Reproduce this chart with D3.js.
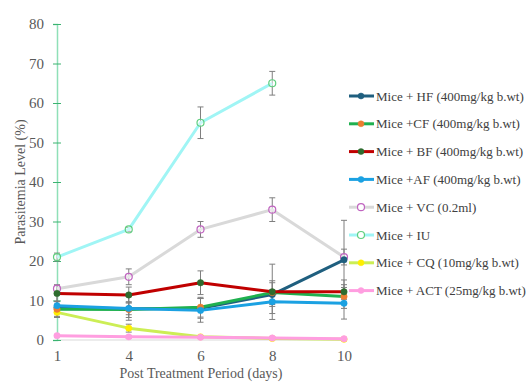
<!DOCTYPE html>
<html>
<head>
<meta charset="utf-8">
<script src="https://cdn.jsdelivr.net/npm/d3@7"></script>
<style>
  body { margin: 0; background: #fff; }
  svg text { font-family: "Liberation Serif", "Times New Roman", serif; }
</style>
</head>
<body>
<svg id="drawing_region"></svg>
<script>
// days after treatment
const days = ["1", "4", "6", "8", "10"];
const yTicks = [0, 10, 20, 30, 40, 50, 60, 70, 80];

// series names
const names = [
    "Mice + HF (400mg/kg b.wt)",
    "Mice +CF (400mg/kg b.wt)",
    "Mice + BF (400mg/kg b.wt)",
    "Mice +AF  (400mg/kg b.wt)",
    "Mice + VC (0.2ml)",
    "Mice + IU",
    "Mice + CQ (10mg/kg b.wt)",
    "Mice + ACT (25mg/kg b.wt)"
];

// parasitemia values (%), null = no value
const hf  = [8.2, 7.9, 8.0, 11.5, 20.3];
const cf  = [7.8, 7.7, 8.3, 12.0, 11.0];
const bf  = [11.8, 11.4, 14.5, 12.2, 12.2];
const af  = [8.7, 8.0, 7.5, 9.7, 9.3];
const vc  = [13, 16, 28, 33, 21];
const iu  = [21, 28, 55, 65, null];
const cq  = [7, 3, 0.8, 0.4, 0.2];
const act = [1.1, 0.8, 0.7, 0.5, 0.3];

// standard errors
const hfErr  = [1.5, 1.5, 2.5, 3, 10];
const cfErr  = [2, 2, 2.5, 3, 3];
const bfErr  = [2, 2, 3, 7, 3];
const afErr  = [3, 3, 3, 3, 4];
const vcErr  = [1, 2, 2, 3, 2];
const iuErr  = [1, 0.5, 4, 3, null];
const cqErr  = [1, 1, 0.3, 0.3, 0.2];
const actErr = [0.3, 0.3, 0.3, 0.3, 0.2];

const FONT = '"Liberation Serif", "Times New Roman", serif';

const series = [
    {name: names[0], values: hf,  err: hfErr,  line: "#1f5f7f", marker: "#1f5f7f", hollow: false},
    {name: names[1], values: cf,  err: cfErr,  line: "#1fb04f", marker: "#ed7d31", hollow: false},
    {name: names[2], values: bf,  err: bfErr,  line: "#c00000", marker: "#2e6b2e", hollow: false},
    {name: names[3], values: af,  err: afErr,  line: "#1ba1e2", marker: "#1ba1e2", hollow: false},
    {name: names[4], values: vc,  err: vcErr,  line: "#d9d9d9", marker: "#c064c0", hollow: true},
    {name: names[5], values: iu,  err: iuErr,  line: "#a0f5f5", marker: "#5fcf7f", hollow: true},
    {name: names[6], values: cq,  err: cqErr,  line: "#ccee55", marker: "#ffee00", hollow: false},
    {name: names[7], values: act, err: actErr, line: "#ff9ee0", marker: "#ff9ee0", hollow: false}
];

const config = {
    width: 529,
    height: 383,
    margin: {top: 24, left: 57, right: 185, bottom: 43}
};

const svg = d3.select("#drawing_region")
    .attr("width", config.width)
    .attr("height", config.height)
    .attr("font-family", FONT);

const innerW = config.width - config.margin.left - config.margin.right;
const innerH = config.height - config.margin.top - config.margin.bottom;

const chart = svg.append("g")
    .attr("transform", `translate(${config.margin.left},${config.margin.top})`);

const xScale = d3.scalePoint().domain(days).range([0, innerW]);
const yScale = d3.scaleLinear().domain([0, 80]).range([innerH, 0]);

// x axis line (light gray)
chart.append("line")
    .attr("x1", 0).attr("x2", innerW)
    .attr("y1", innerH).attr("y2", innerH)
    .attr("stroke", "#d9d9d9").attr("stroke-width", 1);

// x tick labels
const xAxis = chart.append("g")
    .attr("transform", `translate(0,${innerH})`)
    .call(d3.axisBottom(xScale).tickSize(0).tickPadding(10));
xAxis.attr("font-family", null);
xAxis.select(".domain").remove();
xAxis.selectAll("text")
    .attr("fill", "#595959")
    .style("font-size", "15px");

// y axis
const yAxis = chart.append("g")
    .call(d3.axisLeft(yScale).tickValues(yTicks).tickSize(4).tickPadding(9));
yAxis.attr("font-family", null);
yAxis.select(".domain").attr("stroke", "#8fe0b8").attr("stroke-width", 1.5);
yAxis.selectAll(".tick line")
    .attr("stroke", "#3cb371")
    .attr("x1", -4).attr("x2", 4);
yAxis.selectAll("text")
    .attr("fill", "#595959")
    .style("font-size", "15px");

// axis titles
svg.append("text")
    .attr("x", 201)
    .attr("y", 378)
    .attr("text-anchor", "middle")
    .attr("fill", "#595959")
    .style("font-size", "14px")
    .text("Post Treatment Period (days)");

svg.append("text")
    .attr("transform", "translate(25,182) rotate(-90)")
    .attr("text-anchor", "middle")
    .attr("fill", "#595959")
    .style("font-size", "14px")
    .text("Parasitemia Level (%)");

// error bars
const errG = chart.append("g");
series.forEach(s => {
    s.values.forEach((v, i) => {
        if (v === null || s.err[i] === null) return;
        const x = xScale(days[i]);
        const y1 = yScale(v + s.err[i]);
        const y2 = yScale(Math.max(0, v - s.err[i]));
        errG.append("line")
            .attr("x1", x).attr("x2", x).attr("y1", y1).attr("y2", y2)
            .attr("stroke", "#7f7f7f").attr("stroke-width", 1);
        [y1, y2].forEach(yy => {
            errG.append("line")
                .attr("x1", x - 3).attr("x2", x + 3).attr("y1", yy).attr("y2", yy)
                .attr("stroke", "#7f7f7f").attr("stroke-width", 1);
        });
    });
});

// lines (draw in reverse order so first series on top)
const line = d3.line()
    .defined(d => d.v !== null)
    .x(d => xScale(d.day))
    .y(d => yScale(d.v));

const drawOrder = [4, 5, 6, 7, 0, 1, 3, 2];
drawOrder.forEach(k => {
    const s = series[k];
    const pts = s.values.map((v, i) => ({day: days[i], v: v}));
    chart.append("path")
        .datum(pts)
        .attr("fill", "none")
        .attr("stroke", s.line)
        .attr("stroke-width", 3)
        .attr("stroke-linejoin", "round")
        .attr("d", line);
    chart.selectAll(null)
        .data(pts.filter(d => d.v !== null))
        .enter()
        .append("circle")
        .attr("cx", d => xScale(d.day))
        .attr("cy", d => yScale(d.v))
        .attr("r", s.hollow ? 3.5 : 3.2)
        .attr("fill", s.hollow ? "#ffffff" : s.marker)
        .attr("fill-opacity", s.hollow ? 0.4 : 1)
        .attr("stroke", s.marker)
        .attr("stroke-width", s.hollow ? 1.2 : 0.5);
});

// legend
const legend = svg.append("g").attr("transform", "translate(349,96)");
series.forEach((s, i) => {
    const g = legend.append("g").attr("transform", `translate(0,${i * 27.8})`);
    g.append("line")
        .attr("x1", 0).attr("x2", 25)
        .attr("stroke", s.line).attr("stroke-width", 3);
    g.append("circle")
        .attr("cx", 12).attr("cy", 0).attr("r", s.hollow ? 3.5 : 3)
        .attr("fill", s.hollow ? "#ffffff" : s.marker)
        .attr("stroke", s.marker)
        .attr("stroke-width", s.hollow ? 1.2 : 0.5);
    g.append("text")
        .attr("x", 27).attr("y", 0)
        .attr("dy", "0.35em")
        .attr("fill", "#404040")
        .style("font-size", "13px")
        .text(s.name);
});
</script>
</body>
</html>
